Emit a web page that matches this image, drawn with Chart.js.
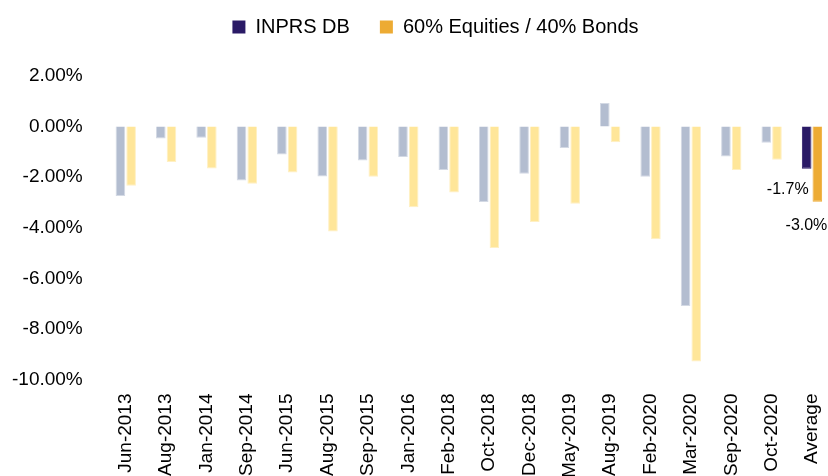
<!DOCTYPE html>
<html>
<head>
<meta charset="utf-8">
<script src="https://cdn.jsdelivr.net/npm/chart.js@4.4.1/dist/chart.umd.min.js"></script>
<style>
    body { margin: 0; background: #fff; overflow: hidden; }
    #wrap { width: 828px; height: 476px; }
</style>
</head>
<body>
<div id="wrap"><canvas id="returnsChart" width="828" height="476"></canvas></div>
<script>
const categories = ['Jun-2013', 'Aug-2013', 'Jan-2014', 'Sep-2014', 'Jun-2015', 'Aug-2015', 'Sep-2015', 'Jan-2016', 'Feb-2018',
    'Oct-2018', 'Dec-2018', 'May-2019', 'Aug-2019', 'Feb-2020', 'Mar-2020', 'Sep-2020', 'Oct-2020', 'Average'];
const inprsDB = [-2.74, -0.47, -0.44, -2.13, -1.10, -1.97, -1.34, -1.20, -1.72, -2.98, -1.86, -0.85, 0.93, -1.98, -7.09, -1.18, -0.64, -1.67];
const equitiesBonds = [-2.34, -1.40, -1.66, -2.26, -1.82, -4.15, -1.98, -3.19, -2.61, -4.80, -3.77, -3.05, -0.62, -4.45, -9.29, -1.72, -1.31, -2.97];
const yTicks = [2, 0, -2, -4, -6, -8, -10];

const NAVY = '#2a1a66';
const ORANGE = '#edab33';
const GREY = '#b3bdd0';
const YELLOW = '#ffe699';
const FONT = '"Liberation Sans", Arial, sans-serif';

const lastIdx = categories.length - 1;
const colorsFor = (light, dark) => categories.map((c, i) => i === lastIdx ? dark : light);

// offsets for the "Average" value labels
const labelOffsets = [{ dx: 2, dy: 21 }, { dx: 10, dy: 24 }];

const averageLabels = {
    id: 'averageLabels',
    afterDatasetsDraw(chart) {
        const ctx = chart.ctx;
        chart.data.datasets.forEach((ds, i) => {
            const bar = chart.getDatasetMeta(i).data[lastIdx];
            ctx.save();
            ctx.font = '16px ' + FONT;
            ctx.fillStyle = '#000';
            ctx.textAlign = 'right';
            ctx.textBaseline = 'middle';
            ctx.fillText(ds.data[lastIdx].toFixed(1) + '%', bar.x + labelOffsets[i].dx, bar.y + labelOffsets[i].dy);
            ctx.restore();
        });
    }
};

// extra room under the legend, and nudge it right
const legendSpacing = {
    id: 'legendSpacing',
    beforeInit(chart) {
        const fit = chart.legend.fit;
        chart.legend.fit = function () {
            fit.bind(chart.legend)();
            this.height += 29;
        };
    },
    afterLayout(chart) {
        chart.legend.left += 45;
        chart.legend.right += 45;
    }
};

new Chart(document.getElementById('returnsChart').getContext('2d'), {
    type: 'bar',
    data: {
        labels: categories,
        datasets: [{
            label: 'INPRS DB',
            data: inprsDB,
            backgroundColor: colorsFor(GREY, NAVY),
            borderColor: colorsFor('#d3d9e4', NAVY),
            borderWidth: 1,
            barPercentage: 0.9,
            categoryPercentage: 0.53,
            clip: false
        }, {
            label: '60% Equities / 40% Bonds',
            data: equitiesBonds,
            backgroundColor: colorsFor(YELLOW, ORANGE),
            borderColor: colorsFor('#fff0c4', ORANGE),
            borderWidth: 1,
            barPercentage: 0.9,
            categoryPercentage: 0.53,
            clip: false
        }]
    },
    options: {
        responsive: false,
        animation: false,
        layout: {
            padding: { left: -31, right: 16, top: -13, bottom: -16 }
        },
        plugins: {
            legend: {
                position: 'top',
                labels: {
                    font: { size: 20, family: FONT },
                    color: '#000',
                    boxWidth: 13,
                    boxHeight: 13,
                    padding: 30,
                    generateLabels: function () {
                        return [
                            { text: 'INPRS DB', fillStyle: NAVY, strokeStyle: NAVY, lineWidth: 0, datasetIndex: 0 },
                            { text: '60% Equities / 40% Bonds', fillStyle: ORANGE, strokeStyle: ORANGE, lineWidth: 0, datasetIndex: 1 }
                        ];
                    }
                }
            },
            tooltip: { enabled: false }
        },
        scales: {
            x: {
                offset: false,
                afterFit: function (axis) {
                    axis.paddingRight = 0;
                },
                grid: { display: false, drawTicks: false },
                border: { display: false },
                ticks: {
                    minRotation: 90,
                    maxRotation: 90,
                    autoSkip: false,
                    padding: 14,
                    color: '#000',
                    font: { size: 19, family: FONT }
                }
            },
            y: {
                min: -10,
                max: 2,
                afterBuildTicks: function (axis) {
                    axis.ticks = yTicks.map(v => ({ value: v }));
                },
                grid: { display: false, drawTicks: false },
                border: { display: false },
                ticks: {
                    padding: 43,
                    color: '#000',
                    font: { size: 19, family: FONT },
                    callback: function (value) {
                        return value.toFixed(2) + '%';
                    }
                }
            }
        }
    },
    plugins: [legendSpacing, averageLabels]
});
</script>
</body>
</html>
